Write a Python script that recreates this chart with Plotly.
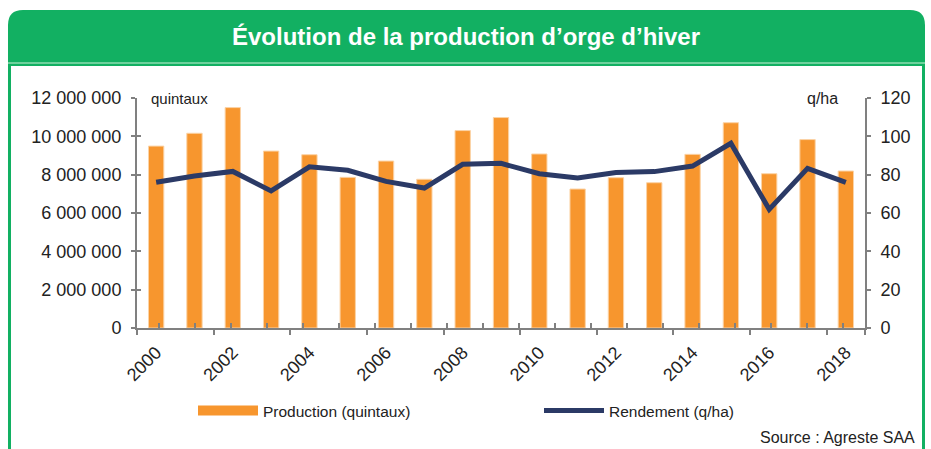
import plotly.graph_objects as go

years = [str(y) for y in range(2000, 2019)]
production = [9490000, 10160000, 11500000, 9230000, 9040000, 7860000, 8710000, 7760000,
              10300000, 10980000, 9080000, 7250000, 7840000, 7580000, 9060000, 10710000,
              8050000, 9830000, 8190000]
rendement = [76.0, 79.3, 81.7, 71.5, 84.1, 82.3, 76.5, 73.0, 85.4, 85.9, 80.5, 78.3,
             81.1, 81.6, 84.5, 96.4, 61.9, 83.3, 76.0]
left_ticks = [0, 2000000, 4000000, 6000000, 8000000, 10000000, 12000000]
right_ticks = [0, 20, 40, 60, 80, 100, 120]

W, H = 931, 449
L, R, T, B = 137, 865, 98, 328

def px(x):
    return (x - L) / (R - L)

def py(y):
    return (B - y) / (B - T)

GREEN = "#12B062"
ORANGE = "#F7962E"
NAVY = "#2B3A66"
AXIS = "#808080"
TXT = "#222222"
FONT = "Liberation Sans, Arial, sans-serif"

fig = go.Figure()
fig.add_trace(go.Bar(x=years, y=production, name="Production (quintaux)",
                     marker=dict(color=ORANGE, line=dict(color="#FBD3A6", width=1)),
                     showlegend=False, yaxis="y", hoverinfo="x+y"))
fig.add_trace(go.Scatter(x=[None], y=[None], mode="lines", name="Production (quintaux)",
                         line=dict(color=ORANGE, width=10), showlegend=True))
fig.add_trace(go.Scatter(x=years, y=rendement, mode="lines", name="Rendement (q/ha)",
                         line=dict(color=NAVY, width=5), yaxis="y2"))
# invisible helper trace so the overlay axes (inner half of the crossing ticks) get drawn
fig.add_trace(go.Scatter(x=years, y=production, mode="markers", xaxis="x2", yaxis="y3",
                         marker=dict(opacity=0), showlegend=False, hoverinfo="skip"))

r = 15
def P(x, y):
    return f"{px(x):.5f},{py(y):.5f}"

frame = (f"M {P(8, 470)} L {P(8, 10 + r)} Q {P(8, 10)} {P(8 + r, 10)} "
         f"L {P(925 - r, 10)} Q {P(925, 10)} {P(925, 10 + r)} L {P(925, 470)} Z")
shapes = [
    dict(type="path", path=frame, xref="paper", yref="paper", fillcolor=GREEN,
         line=dict(width=0), layer="below"),
    dict(type="rect", xref="paper", yref="paper", x0=px(11), x1=px(922), y0=py(66), y1=py(470),
         fillcolor="white", line=dict(width=0), layer="below"),
    dict(type="line", xref="paper", yref="paper", x0=px(8), x1=px(925), y0=py(63), y1=py(63),
         line=dict(color="#8EDDB0", width=1.5), layer="below"),
]

annotations = [
    dict(text="<b>Évolution de la production d’orge d’hiver</b>", xref="paper", yref="paper",
         x=px(466), y=py(36), xanchor="center", yanchor="middle", showarrow=False,
         font=dict(family="Liberation Sans Narrow, Arial Narrow, Liberation Sans, Arial",
                   size=24, color="white")),
    dict(text="quintaux", xref="paper", yref="paper", x=px(149), y=py(98), xanchor="left",
         yanchor="middle", showarrow=False, font=dict(family=FONT, size=15, color=TXT)),
    dict(text="q/ha", xref="paper", yref="paper", x=px(840), y=py(98), xanchor="right",
         yanchor="middle", showarrow=False, font=dict(family=FONT, size=16, color=TXT)),
    dict(text="Source : Agreste SAA", xref="paper", yref="paper", x=px(917), y=py(437),
         xanchor="right", yanchor="middle", showarrow=False,
         font=dict(family=FONT, size=16, color=TXT)),
]

tick_common = dict(tickcolor=AXIS, tickwidth=1.5)

fig.update_layout(
    width=W, height=H,
    margin=dict(l=L, r=W - R, t=T, b=H - B, pad=0),
    paper_bgcolor="white", plot_bgcolor="rgba(0,0,0,0)",
    separators=", ",
    bargap=0.6,
    font=dict(family=FONT, size=18, color=TXT),
    shapes=shapes, annotations=annotations,
    xaxis=dict(type="category", tickangle=-45, showgrid=False, showline=True,
               linecolor=AXIS, linewidth=2, ticks="outside", tickson="boundaries",
               ticklen=5, ticklabelstandoff=5, **tick_common,
               tickvals=years[::2], ticktext=years[::2],
               tickfont=dict(size=18, color=TXT)),
    xaxis2=dict(type="category", overlaying="x", anchor="y", side="bottom", showgrid=False,
                showline=False, ticks="inside", tickson="boundaries", ticklen=5,
                showticklabels=False, **tick_common),
    yaxis=dict(range=[0, 12000000], tickvals=left_ticks, tickformat=",d", showgrid=False,
               showline=True, linecolor=AXIS, linewidth=2, ticks="outside", ticklen=4,
               ticklabelstandoff=6, **tick_common, zeroline=False,
               tickfont=dict(size=18, color=TXT)),
    yaxis3=dict(range=[0, 12000000], tickvals=left_ticks, overlaying="y", side="left",
                anchor="x", showgrid=False, showline=False, ticks="inside", ticklen=4,
                showticklabels=False, zeroline=False, **tick_common),
    yaxis2=dict(range=[0, 120], tickvals=right_ticks, overlaying="y", side="right",
                showgrid=False, showline=True, linecolor=AXIS, linewidth=2, ticks="outside",
                ticklen=4, ticklabelstandoff=6, **tick_common, zeroline=False,
                tickfont=dict(size=18, color=TXT)),
    yaxis4=dict(range=[0, 120], tickvals=right_ticks, overlaying="y", side="right",
                anchor="x", showgrid=False, showline=False, ticks="inside", ticklen=4,
                showticklabels=False, zeroline=False, **tick_common),
    legend=dict(orientation="h", x=px(193), y=py(394), xanchor="left", yanchor="top",
                font=dict(family=FONT, size=15.5, color=TXT), bgcolor="rgba(0,0,0,0)",
                entrywidth=271, entrywidthmode="pixels", itemwidth=60,
                traceorder="normal"),
)

fig.write_html("out.html", config={"displayModeBar": False},
               post_script="document.body.style.margin='0';document.body.style.overflow='hidden';")
